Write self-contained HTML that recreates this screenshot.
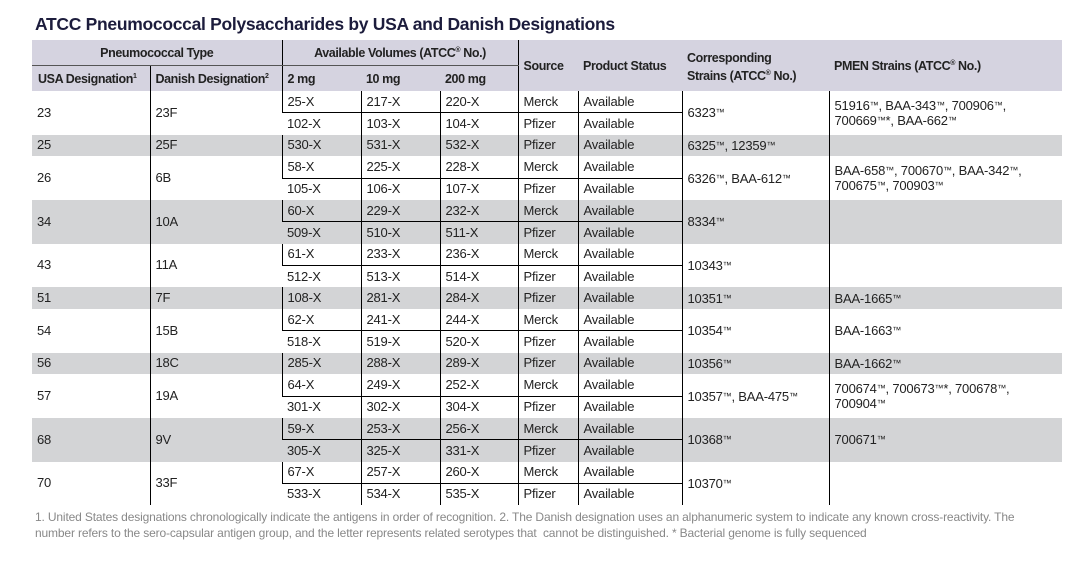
<!DOCTYPE html>
<html><head><meta charset="utf-8"><style>
body{margin:0;width:1075px;height:564px;background:#fff;font-family:"Liberation Sans",sans-serif;color:#222;position:relative;overflow:hidden}
h1{position:absolute;left:35px;top:14px;margin:0;font:bold 17.5px "Liberation Sans",sans-serif;color:#1c1c3c;letter-spacing:-0.3px}
table{position:absolute;left:32px;top:40px;border-collapse:collapse;table-layout:fixed;width:1030px;font-size:13px;letter-spacing:-0.2px}
td,th{padding:0 0 0 5px;white-space:nowrap;overflow:hidden;vertical-align:middle;text-align:left}
thead th{background:#d5d3e0;font-weight:bold;font-size:12.5px;color:#222;letter-spacing:-0.4px}
thead tr.r1 th{height:25px}
thead tr.r2 th{height:25px}
tbody tr{height:21.8px}
tbody td{border-left:1px solid #000;line-height:14px}
tbody td:first-child{border-left:none}
tr.g td{background:#d3d4d6}
.b td.v{border-bottom:1px solid #000}
td.w{white-space:normal;line-height:15px}
.ctr{text-align:center;padding:0}
sup{font-size:7px}
.tm{font-size:9px;vertical-align:2px}
.foot{position:absolute;left:35px;top:509px;font:12px "Liberation Sans",sans-serif;color:#888;line-height:16px;width:1030px;letter-spacing:-0.15px}
</style></head><body>
<h1>ATCC Pneumococcal Polysaccharides by USA and Danish Designations</h1>
<table>
<colgroup><col style="width:118px"><col style="width:132px"><col style="width:79px"><col style="width:79px"><col style="width:78px"><col style="width:60px"><col style="width:104px"><col style="width:147px"><col style="width:233px"></colgroup>
<thead>
<tr class="r1"><th colspan="2" class="ctr" style="border-bottom:1px solid #555;border-right:1px solid #000">Pneumococcal Type</th><th colspan="3" class="ctr" style="border-bottom:1px solid #555;border-right:1px solid #000">Available Volumes (ATCC<sup>®</sup> No.)</th><th rowspan="2">Source</th><th rowspan="2">Product Status</th><th rowspan="2" style="line-height:16px;padding-top:4px">Corresponding<br>Strains (ATCC<sup>®</sup> No.)</th><th rowspan="2">PMEN Strains (ATCC<sup>®</sup> No.)</th></tr>
<tr class="r2"><th style="border-right:1px solid #000;padding-left:6px">USA Designation<sup>1</sup></th><th style="border-right:1px solid #000">Danish Designation<sup>2</sup></th><th>2 mg</th><th>10 mg</th><th style="border-right:1px solid #000">200 mg</th></tr>
</thead>
<tbody>
<tr class="b"><td rowspan="2">23</td><td rowspan="2">23F</td><td class="v">25-X</td><td class="v">217-X</td><td class="v">220-X</td><td class="v">Merck</td><td class="v">Available</td><td rowspan="2">6323<span class="tm">™</span></td><td rowspan="2" class="w">51916<span class="tm">™</span>, BAA-343<span class="tm">™</span>, 700906<span class="tm">™</span>,<br>700669<span class="tm">™</span>*, BAA-662<span class="tm">™</span></td></tr>
<tr><td>102-X</td><td>103-X</td><td>104-X</td><td>Pfizer</td><td>Available</td></tr>
<tr class="g"><td>25</td><td>25F</td><td>530-X</td><td>531-X</td><td>532-X</td><td>Pfizer</td><td>Available</td><td>6325<span class="tm">™</span>, 12359<span class="tm">™</span></td><td></td></tr>
<tr class="b"><td rowspan="2">26</td><td rowspan="2">6B</td><td class="v">58-X</td><td class="v">225-X</td><td class="v">228-X</td><td class="v">Merck</td><td class="v">Available</td><td rowspan="2">6326<span class="tm">™</span>, BAA-612<span class="tm">™</span></td><td rowspan="2" class="w">BAA-658<span class="tm">™</span>, 700670<span class="tm">™</span>, BAA-342<span class="tm">™</span>,<br>700675<span class="tm">™</span>, 700903<span class="tm">™</span></td></tr>
<tr><td>105-X</td><td>106-X</td><td>107-X</td><td>Pfizer</td><td>Available</td></tr>
<tr class="g b"><td rowspan="2">34</td><td rowspan="2">10A</td><td class="v">60-X</td><td class="v">229-X</td><td class="v">232-X</td><td class="v">Merck</td><td class="v">Available</td><td rowspan="2">8334<span class="tm">™</span></td><td rowspan="2"></td></tr>
<tr class="g"><td>509-X</td><td>510-X</td><td>511-X</td><td>Pfizer</td><td>Available</td></tr>
<tr class="b"><td rowspan="2">43</td><td rowspan="2">11A</td><td class="v">61-X</td><td class="v">233-X</td><td class="v">236-X</td><td class="v">Merck</td><td class="v">Available</td><td rowspan="2">10343<span class="tm">™</span></td><td rowspan="2"></td></tr>
<tr><td>512-X</td><td>513-X</td><td>514-X</td><td>Pfizer</td><td>Available</td></tr>
<tr class="g"><td>51</td><td>7F</td><td>108-X</td><td>281-X</td><td>284-X</td><td>Pfizer</td><td>Available</td><td>10351<span class="tm">™</span></td><td>BAA-1665<span class="tm">™</span></td></tr>
<tr class="b"><td rowspan="2">54</td><td rowspan="2">15B</td><td class="v">62-X</td><td class="v">241-X</td><td class="v">244-X</td><td class="v">Merck</td><td class="v">Available</td><td rowspan="2">10354<span class="tm">™</span></td><td rowspan="2">BAA-1663<span class="tm">™</span></td></tr>
<tr><td>518-X</td><td>519-X</td><td>520-X</td><td>Pfizer</td><td>Available</td></tr>
<tr class="g"><td>56</td><td>18C</td><td>285-X</td><td>288-X</td><td>289-X</td><td>Pfizer</td><td>Available</td><td>10356<span class="tm">™</span></td><td>BAA-1662<span class="tm">™</span></td></tr>
<tr class="b"><td rowspan="2">57</td><td rowspan="2">19A</td><td class="v">64-X</td><td class="v">249-X</td><td class="v">252-X</td><td class="v">Merck</td><td class="v">Available</td><td rowspan="2">10357<span class="tm">™</span>, BAA-475<span class="tm">™</span></td><td rowspan="2" class="w">700674<span class="tm">™</span>, 700673<span class="tm">™</span>*, 700678<span class="tm">™</span>,<br>700904<span class="tm">™</span></td></tr>
<tr><td>301-X</td><td>302-X</td><td>304-X</td><td>Pfizer</td><td>Available</td></tr>
<tr class="g b"><td rowspan="2">68</td><td rowspan="2">9V</td><td class="v">59-X</td><td class="v">253-X</td><td class="v">256-X</td><td class="v">Merck</td><td class="v">Available</td><td rowspan="2">10368<span class="tm">™</span></td><td rowspan="2">700671<span class="tm">™</span></td></tr>
<tr class="g"><td>305-X</td><td>325-X</td><td>331-X</td><td>Pfizer</td><td>Available</td></tr>
<tr class="b"><td rowspan="2">70</td><td rowspan="2">33F</td><td class="v">67-X</td><td class="v">257-X</td><td class="v">260-X</td><td class="v">Merck</td><td class="v">Available</td><td rowspan="2">10370<span class="tm">™</span></td><td rowspan="2"></td></tr>
<tr><td>533-X</td><td>534-X</td><td>535-X</td><td>Pfizer</td><td>Available</td></tr>
</tbody>
</table>
<div class="foot">1. United States designations chronologically indicate the antigens in order of recognition. 2. The Danish designation uses an alphanumeric system to indicate any known cross-reactivity. The<br>number refers to the sero-capsular antigen group, and the letter represents related serotypes that&nbsp; cannot be distinguished. * Bacterial genome is fully sequenced</div>
</body></html>
